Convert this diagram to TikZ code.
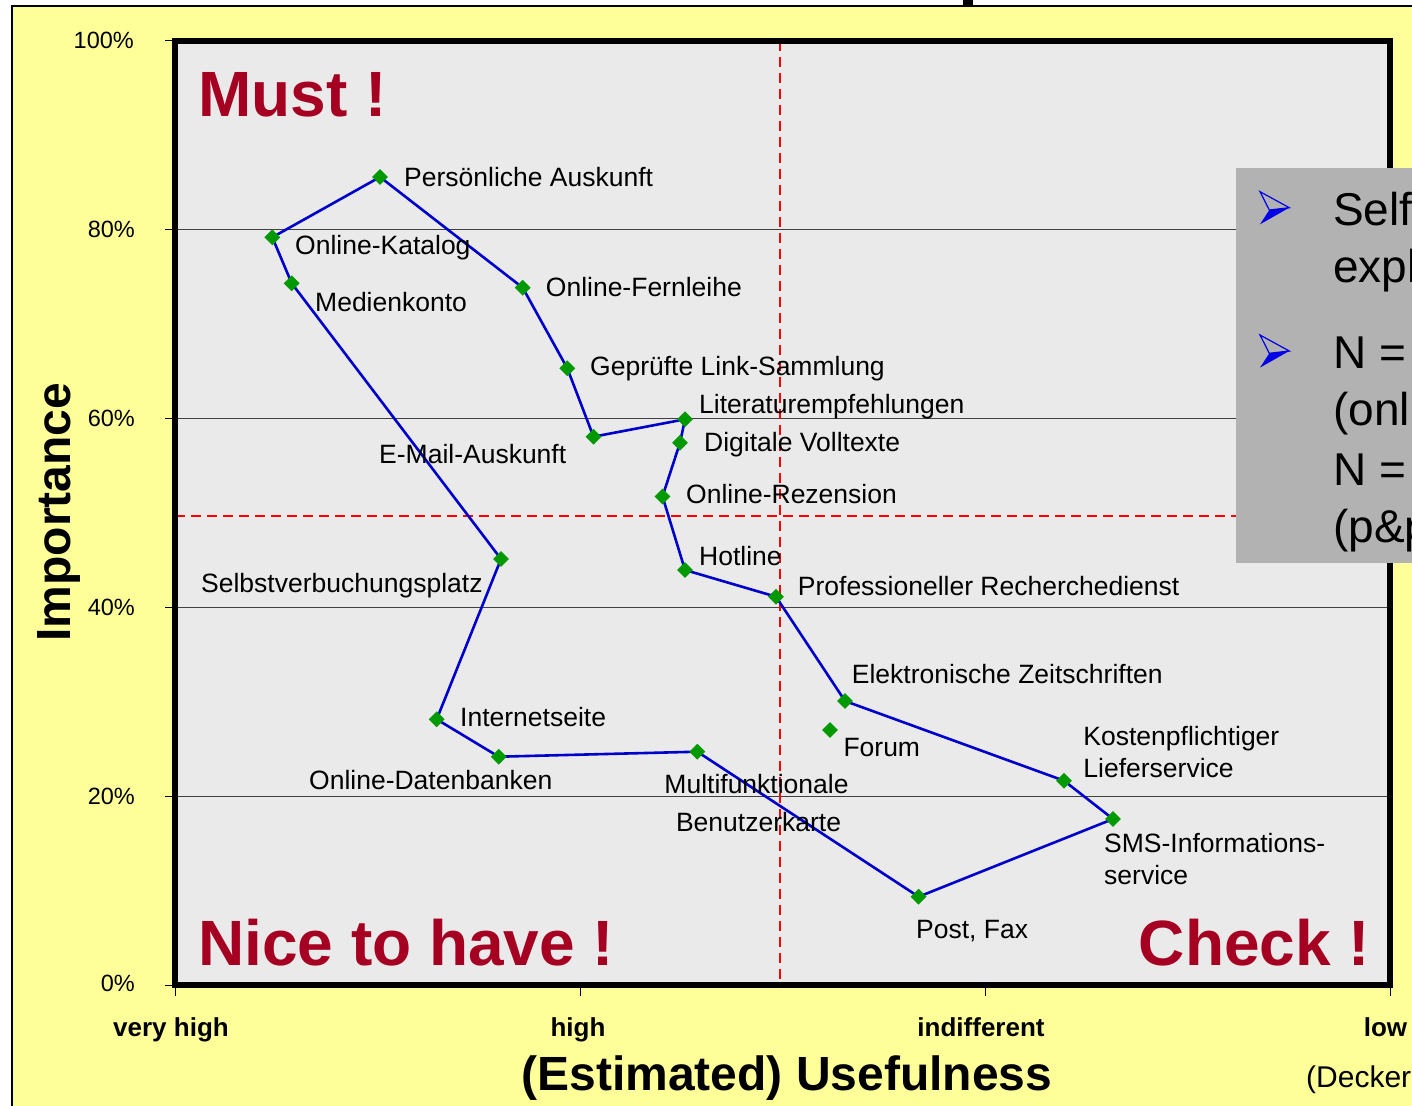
\documentclass[tikz,border=0pt]{standalone}
\usepackage{fontspec}
\setmainfont{Liberation Sans}
\usetikzlibrary{shapes.geometric}
\definecolor{ybg}{HTML}{FFFF99}
\definecolor{pbg}{HTML}{EAEAEA}
\definecolor{boxgray}{HTML}{B2B2B2}
\definecolor{dred}{HTML}{A50021}
\definecolor{mkgreen}{HTML}{009900}
\definecolor{lnblue}{HTML}{0000CC}
\definecolor{bulblue}{HTML}{0000E6}
\definecolor{qred}{HTML}{FF0000}
\begin{document}
\begin{tikzpicture}[x=1pt,y=-1pt,
  lbl/.style={anchor=base west, inner sep=0pt, font=\fontsize{26.5}{30}\selectfont},
  mk/.style={diamond, shape aspect=1, fill=mkgreen, inner sep=0pt, minimum width=16pt, minimum height=16pt},
  pathline/.style={draw=lnblue, line width=2.6pt, line join=round},
  corner/.style={anchor=base west, inner sep=0pt, text=dred, font=\fontsize{64}{70}\selectfont\bfseries},
  gridln/.style={draw=black!75, line width=1.2pt},
  quad/.style={draw=qred, line width=2pt, dash pattern=on 10pt off 6pt},
  ytick/.style={anchor=east, inner sep=0pt, font=\fontsize{23.5}{26}\selectfont},
  xtick/.style={anchor=base, inner sep=0pt, font=\fontsize{26}{30}\selectfont\bfseries},
  boxtxt/.style={anchor=base west, inner sep=0pt, font=\fontsize{46}{52}\selectfont},
  bularrow/.pic={
    \fill[bulblue] (29.3,16) -- (0,32.6) -- (9.3,18.3) -- cycle;
    \draw[bulblue, line width=1.2pt, line join=miter] (29.3,16) -- (0,0) -- (9.3,18.3) -- cycle;
  }]
\useasboundingbox (0,0) rectangle (1412,1105);
\clip (0,0) rectangle (1412,1105);
\fill[white] (0,0) rectangle (1412,1105);
% yellow slide area
\filldraw[fill=ybg, draw=black, line width=2pt] (12,6) rectangle (1430,1120);
\fill[black] (963,0) rectangle (973,6);
% plot area
\fill[pbg] (175,41) rectangle (1390,985);
\foreach \yy in {229.8,418.6,607.4,796.2} \draw[gridln] (175,\yy) -- (1390,\yy);
\draw[quad] (780,41) -- (780,985);
\draw[quad] (175,515.5) -- (1390,515.5);
\draw[line width=6pt, line join=miter] (175,41) rectangle (1390,985);
\foreach \yy in {41,229.8,418.6,607.4,796.2,985} \draw[line width=1pt] (165,\yy) -- (175,\yy);
\foreach \xx in {175,580,985,1390} \draw[line width=1pt] (\xx,985) -- (\xx,996);
% y tick labels
\node[ytick] (y100) at (134,40) {100\%};
\node[ytick] (y80) at (135,229.8) {80\%};
\node[ytick] (y60) at (135,418.6) {60\%};
\node[ytick] (y40) at (135,607.4) {40\%};
\node[ytick] (y20) at (135,796.2) {20\%};
\node[ytick] (y0) at (135,983) {0\%};
% data points
\coordinate (c1) at (380,177);
\coordinate (c2) at (272.3,237.3);
\coordinate (c3) at (291.7,283.3);
\coordinate (c4) at (522.7,287.7);
\coordinate (c5) at (567.3,368.3);
\coordinate (c6) at (593.5,436.7);
\coordinate (c7) at (685,419.3);
\coordinate (c8) at (680,442.7);
\coordinate (c9) at (662.5,496.5);
\coordinate (c10) at (685,570);
\coordinate (c11) at (776,596.7);
\coordinate (c12) at (845,701);
\coordinate (c13) at (1064,780.7);
\coordinate (c14) at (1113,819);
\coordinate (c15) at (918.6,896.7);
\coordinate (c16) at (697.3,751.7);
\coordinate (c17) at (498.7,756.7);
\coordinate (c18) at (436.7,719.3);
\coordinate (c19) at (501,559);
\coordinate (c20) at (830,730);
\draw[pathline] (c3) -- (c2) -- (c1) -- (c4) -- (c5) -- (c6) -- (c7) -- (c8) -- (c9) -- (c10) -- (c11) -- (c12) -- (c13) -- (c14) -- (c15) -- (c16) -- (c17) -- (c18) -- (c19) -- cycle;
\foreach \i in {1,...,20} \node[mk] (m\i) at (c\i) {};
% labels
\node[lbl] (l1) at (404,186) {Persönliche Auskunft};
\node[lbl] (l2) at (295,254) {Online-Katalog};
\node[lbl] (l3) at (315,311.7) {Medienkonto};
\node[lbl] (l4) at (545.7,296.7) {Online-Fernleihe};
\node[lbl] (l5) at (590,375.7) {Geprüfte Link-Sammlung};
\node[lbl] (l6) at (379,463) {E-Mail-Auskunft};
\node[lbl] (l7) at (699,413.3) {Literaturempfehlungen};
\node[lbl] (l8) at (704,451) {Digitale Volltexte};
\node[lbl] (l9) at (686,503.3) {Online-Rezension};
\node[lbl] (l10) at (699,565) {Hotline};
\node[lbl] (l11) at (797.7,595) {Professioneller Recherchedienst};
\node[lbl] (l12) at (851.7,683.3) {Elektronische Zeitschriften};
\node[lbl] (l13a) at (1083.2,745) {Kostenpflichtiger};
\node[lbl] (l13b) at (1083.2,777.3) {Lieferservice};
\node[lbl] (l14a) at (1104,852.3) {SMS-Informations-};
\node[lbl] (l14b) at (1104,884.3) {service};
\node[lbl] (l15) at (916,938.3) {Post, Fax};
\node[lbl, anchor=base] (l16a) at (756.5,793.3) {Multifunktionale};
\node[lbl, anchor=base] (l16b) at (758.5,831.7) {Benutzerkarte};
\node[lbl] (l17) at (309,789.3) {Online-Datenbanken};
\node[lbl] (l18) at (460,726.7) {Internetseite};
\node[lbl] (l19) at (201,592) {Selbstverbuchungsplatz};
\node[lbl] (l20) at (843.3,756) {Forum};
% quadrant titles
\node[corner] (must) at (198,117) {Must !};
\node[corner] (nice) at (198,965) {Nice to have !};
\node[corner] (check) at (1138.7,965) {Check !};
% axis titles
\node[rotate=90, anchor=base, inner sep=0pt, font=\fontsize{48}{52}\selectfont\bfseries] (imp) at (70,512) {Importance};
\node[xtick] (xvh) at (171,1036) {very high};
\node[xtick] (xh) at (578,1036) {high};
\node[xtick] (xi) at (981,1036) {indifferent};
\node[xtick] (xl) at (1385.5,1036) {low};
\node[anchor=base, inner sep=0pt, font=\fontsize{48}{52}\selectfont\bfseries] (xtitle) at (787,1090) {(Estimated) Usefulness};
\node[anchor=base west, inner sep=0pt, font=\fontsize{30}{34}\selectfont] (src) at (1306,1087) {(Decker};
% gray note box
\fill[boxgray] (1236,168.3) rectangle (1430,562.7);
\pic at (1260,191.7) {bularrow};
\pic at (1260,335) {bularrow};
\node[boxtxt] (b1) at (1333,225) {Self};
\node[boxtxt] (b2) at (1333,282) {expl};
\node[boxtxt] (b3) at (1333,368) {N =};
\node[boxtxt] (b4) at (1333,425) {(onl};
\node[boxtxt] (b5) at (1333,485) {N =};
\node[boxtxt] (b6) at (1333,542) {(p\&p};
\end{tikzpicture}
\end{document}
